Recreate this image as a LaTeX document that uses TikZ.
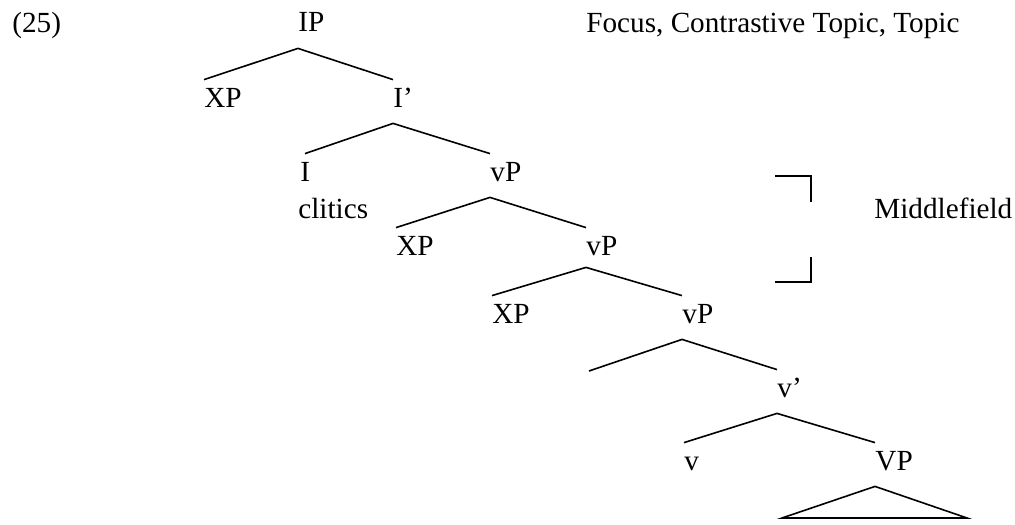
\documentclass[tikz,border=0pt]{standalone}
\usepackage{fontspec}
\setmainfont{Liberation Serif}
\usetikzlibrary{positioning}

\begin{document}
\begin{tikzpicture}[
    x=0.5pt,
    y=-0.5pt,
    font=\fontsize{14.6}{17}\selectfont,
    cat/.style={
        anchor=base west,
        inner sep=0pt,
        text height=13.5pt,
        text depth=8pt
    },
    note/.style={anchor=base west, inner sep=0pt},
    branch/.style={line width=0.8pt}
]
\useasboundingbox (0,0) rectangle (1015,524);

% ============================================================
% LABELS
% ============================================================
\node[note] (ex) at (12,33) {(25)};
\node[note] (info) at (586,33) {Focus, Contrastive Topic, Topic};
\node[note] (mid) at (874,218) {Middlefield};

% ============================================================
% TREE
% ============================================================
\node[cat] (ip) at (298,32) {IP};
\node[cat] (xpA) at (204,107) {XP};
\node[cat] (ibar) at (393,107) {I’};
\node[cat] (infl) at (300,181) {I};
\node[note] (clit) at (298,218) {clitics};
\node[cat] (vpA) at (490,181) {vP};
\node[cat] (xpB) at (396,255) {XP};
\node[cat] (vpB) at (586,255) {vP};
\node[cat] (xpC) at (492,323) {XP};
\node[cat] (vpC) at (682,323) {vP};
\coordinate (specC) at (589,371);
\node[cat] (vbar) at (777,397) {v’};
\node[cat] (lv) at (684,470) {v};
\node[cat] (vp) at (875,470) {VP};
\coordinate (triL) at (782,518);
\coordinate (triR) at (967,518);

\draw[branch] (xpA.north west) -- (ip.south west) -- (ibar.north west);
\draw[branch] ([xshift=2.5pt]infl.north west) -- (ibar.south west) -- (vpA.north west);
\draw[branch] (xpB.north west) -- (vpA.south west) -- (vpB.north west);
\draw[branch] (xpC.north west) -- ([yshift=2pt]vpB.south west) -- (vpC.north west);
\draw[branch] (specC) -- (vpC.south west) -- (vbar.north west);
\draw[branch] (lv.north west) -- (vbar.south west) -- (vp.north west);
\draw[branch] (vp.south west) -- (triR) -- (triL) -- cycle;

% bracket for the middlefield
\coordinate (brTop) at (775,176);
\coordinate (brBot) at (775,282);
\draw[branch] (brTop) -- ++(36,0) -- ++(0,26);
\draw[branch] (brBot) -- ++(36,0) -- ++(0,-25);

\end{tikzpicture}
\end{document}
